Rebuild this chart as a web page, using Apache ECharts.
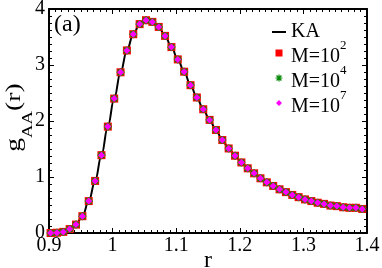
<!DOCTYPE html>
<html>
<head>
<meta charset="utf-8">
<script src="https://cdn.jsdelivr.net/npm/echarts@6/dist/echarts.min.js"></script>
<style>html,body{margin:0;padding:0;background:#fff}#c{width:382px;height:268px}</style>
</head>
<body>
<div id="c"></div>
<script>
// r values of the sampled points
const rVals = [0.9025,0.9125,0.9225,0.9325,0.9425,0.9525,0.9625,0.9725,0.9825,0.9925,
  1.0025,1.0125,1.0225,1.0325,1.0425,1.0525,1.0625,1.0725,1.0825,1.0925,
  1.1025,1.1125,1.1225,1.1325,1.1425,1.1525,1.1625,1.1725,1.1825,1.1925,
  1.2025,1.2125,1.2225,1.2325,1.2425,1.2525,1.2625,1.2725,1.2825,1.2925,
  1.3025,1.3125,1.3225,1.3325,1.3425,1.3525,1.3625,1.3725,1.3825,1.3925];
// g_AA(r) for M=10^2, 10^4, 10^7 (indistinguishable in the picture)
const gM2 = [0.0,0.005,0.02,0.07,0.15,0.30,0.57,0.93,1.39,1.90,
  2.40,2.87,3.26,3.55,3.73,3.80,3.77,3.68,3.52,3.32,
  3.10,2.88,2.64,2.42,2.21,2.02,1.84,1.66,1.51,1.38,
  1.26,1.155,1.066,0.977,0.905,0.84,0.78,0.73,0.68,0.64,
  0.60,0.57,0.54,0.52,0.49,0.48,0.46,0.45,0.45,0.43];
const gM4 = gM2.slice();
const gM7 = gM2.slice();
// KA reference curve
const rKA = [0.9].concat(rVals, [1.4]);
const gKA = [0.0].concat(gM2, [0.425]);
// axis ticks
const xTicks = [0.9, 1.0, 1.1, 1.2, 1.3, 1.4];
const yTicks = [0, 1, 2, 3, 4];

const FONT = 'Liberation Serif';
const pairs = (xs, ys) => xs.map((x, i) => [x, ys[i]]);
const asterisk = 'path://M-1,-5h2v10h-2z M-5,-1h10v2h-10z M-2.8,-4.2L4.2,2.8L2.8,4.2L-4.2,-2.8z M2.8,-4.2L4.2,-2.8L-2.8,4.2L-4.2,2.8z';
const dots = 'M0,0h0.01v0.01h-0.01z M13.99,7.99h0.01v0.01h-0.01z ';
const icons = {
  'KA': 'path://' + dots + 'M0,3h14v2h-14z',
  'M=10^2': 'path://' + dots + 'M3.5,0.5h7v7h-7z',
  'M=10^4': 'path://' + dots + 'M6.4,0.5h1.2v7h-1.2z M3.5,3.4h7v1.2h-7z M5.04,1.06L9.94,5.96L8.96,6.94L4.06,2.04z M8.96,1.06L9.94,2.04L5.04,6.94L4.06,5.96z',
  'M=10^7': 'path://' + dots + 'M7,1L10,4L7,7L4,4z'
};
const fmt = v => String(parseFloat(v.toFixed(2)));

const axisCommon = {
  axisLine: {show: true, onZero: false, lineStyle: {color: '#000', width: 2}},
  axisTick: {show: true, inside: true, length: 5, lineStyle: {color: '#000', width: 1}},
  minorTick: {show: true, length: 3, lineStyle: {color: '#000', width: 1}},
  splitLine: {show: false}
};

const chart = echarts.init(document.getElementById('c'), null, {renderer: 'canvas'});
chart.setOption({
  animation: false,
  backgroundColor: '#fff',
  title: {text: '(a)', left: 54, top: 13, padding: 0,
    textStyle: {fontFamily: FONT, fontSize: 24, fontWeight: 'normal', color: '#000'}},
  grid: {left: 49, right: 15, top: 9, bottom: 35, containLabel: false, outerBoundsMode: 'none'},
  xAxis: [
    Object.assign({}, axisCommon, {type: 'value', min: xTicks[0], max: xTicks[xTicks.length - 1], interval: 0.1,
      position: 'bottom',
      minorTick: Object.assign({}, axisCommon.minorTick, {splitNumber: 10}),
      axisLabel: {fontFamily: FONT, fontSize: 20, color: '#000', margin: 3, formatter: fmt},
      name: 'r', nameLocation: 'middle', nameGap: 16, nameMoveOverlap: false,
      nameTextStyle: {fontFamily: FONT, fontSize: 24, color: '#000'}}),
    Object.assign({}, axisCommon, {type: 'value', min: xTicks[0], max: xTicks[xTicks.length - 1], interval: 0.1,
      position: 'top',
      minorTick: Object.assign({}, axisCommon.minorTick, {splitNumber: 10}),
      axisLabel: {show: false}})
  ],
  yAxis: [
    Object.assign({}, axisCommon, {type: 'value', min: yTicks[0], max: yTicks[yTicks.length - 1], interval: 1,
      position: 'left',
      minorTick: Object.assign({}, axisCommon.minorTick, {splitNumber: 8}),
      axisLabel: {fontFamily: FONT, fontSize: 20, color: '#000', margin: 4, formatter: fmt}}),
    Object.assign({}, axisCommon, {type: 'value', min: yTicks[0], max: yTicks[yTicks.length - 1], interval: 1,
      position: 'right',
      minorTick: Object.assign({}, axisCommon.minorTick, {splitNumber: 8}),
      axisLabel: {show: false}})
  ],
  legend: {
    orient: 'vertical', left: 272, top: 22, padding: 0,
    itemWidth: 14, itemHeight: 8, itemGap: -3,
    data: ['KA', 'M=10^2', 'M=10^4', 'M=10^7'].map(n => ({name: n, icon: icons[n]})),
    formatter: n => n === 'KA' ? '{k|KA}' : '{b|M=10}{s|' + n.split('^')[1] + '}',
    textStyle: {fontFamily: FONT, fontSize: 20, color: '#000',
      rich: {
        k: {fontFamily: FONT, fontSize: 20, color: '#000', lineHeight: 20},
        b: {fontFamily: FONT, fontSize: 20, color: '#000', verticalAlign: 'bottom'},
        s: {fontFamily: FONT, fontSize: 13, color: '#000', verticalAlign: 'top', lineHeight: 28}
      }}
  },
  graphic: [{
    type: 'group', x: 21, y: 118, rotation: Math.PI / 2, scaleX: 1.25,
    children: [
      {type: 'text', x: -27, y: -7, style: {text: 'g', font: '22px ' + FONT, fill: '#000', verticalAlign: 'middle', align: 'left'}},
      {type: 'text', x: -16, y: 7, style: {text: 'AA', font: '15px ' + FONT, fill: '#000', verticalAlign: 'middle', align: 'left'}},
      {type: 'text', x: 5.7, y: -7, style: {text: '(r)', font: '22px ' + FONT, fill: '#000', verticalAlign: 'middle', align: 'left'}}
    ]
  }],
  series: [
    {name: 'KA', type: 'line', data: pairs(rKA, gKA), showSymbol: false, symbol: 'none',
      smooth: 0.4, smoothMonotone: 'x',
      lineStyle: {color: '#000', width: 2}, itemStyle: {color: '#000'}, z: 2},
    {name: 'M=10^2', type: 'scatter', data: pairs(rVals, gM2), symbol: 'rect', symbolSize: 8,
      itemStyle: {color: '#ff0000', opacity: 1}, z: 3},
    {name: 'M=10^4', type: 'scatter', data: pairs(rVals, gM4), symbol: asterisk, symbolSize: 8,
      itemStyle: {color: '#0a8a0a', opacity: 1}, z: 4},
    {name: 'M=10^7', type: 'scatter', data: pairs(rVals, gM7), symbol: 'diamond', symbolSize: 7,
      itemStyle: {color: '#ff00ff', opacity: 1}, z: 5}
  ]
});
</script>
</body>
</html>
